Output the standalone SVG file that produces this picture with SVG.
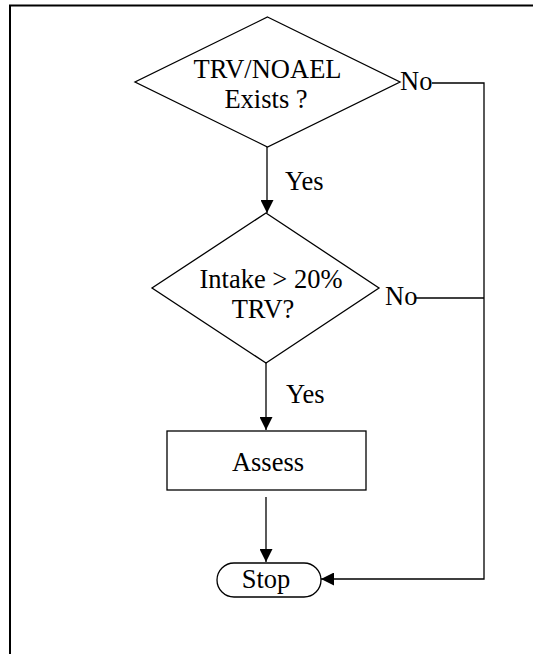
<svg xmlns="http://www.w3.org/2000/svg" width="533" height="654" viewBox="0 0 533 654">
  <style>
    .shape { fill: #ffffff; stroke: #000000; stroke-width: 1.3; }
    .edge { fill: none; stroke: #000000; stroke-width: 1.3; }
    .lbl { font-family: "Liberation Serif", "Times New Roman", serif; font-size: 26.5px; fill: #000000; }
    .mid { text-anchor: middle; }
  </style>
  <defs>
    <marker id="arrow" viewBox="0 0 13 13" refX="13" refY="6.5" markerWidth="13" markerHeight="13" markerUnits="userSpaceOnUse" orient="auto">
      <path d="M0,0 L13,6.5 L0,13 Z" fill="#000000"/>
    </marker>
  </defs>

  <rect width="533" height="654" fill="#ffffff"/>
  <!-- frame -->
  <path d="M10,660 L10,5.5 L540,5.5" fill="none" stroke="#000000" stroke-width="2"/>

  <g id="connectors">
    <line class="edge" x1="267" y1="147" x2="267" y2="213" marker-end="url(#arrow)"/>
    <line class="edge" x1="266" y1="363" x2="266" y2="430" marker-end="url(#arrow)"/>
    <line class="edge" x1="266" y1="497" x2="266" y2="562" marker-end="url(#arrow)"/>
    <polyline class="edge" points="432,83 484,83 484,579 321,579" marker-end="url(#arrow)"/>
    <line class="edge" x1="416" y1="298" x2="484" y2="298"/>
  </g>

  <g id="decision-trv">
    <polygon class="shape" points="267.5,17 400,82 267.5,147 135,82"/>
    <text class="lbl mid" x="267.5" y="78">TRV/NOAEL</text>
    <text class="lbl mid" x="266" y="108">Exists ?</text>
  </g>

  <g id="decision-intake">
    <polygon class="shape" points="266,213 379,288 266,363 152,288"/>
    <text class="lbl mid" x="271" y="288">Intake &gt; 20%</text>
    <text class="lbl mid" x="263" y="318">TRV?</text>
  </g>

  <g id="assess">
    <rect class="shape" x="167" y="431" width="199" height="59"/>
    <text class="lbl mid" x="268" y="471">Assess</text>
  </g>

  <g id="stop">
    <rect class="shape" x="217" y="563" width="104" height="34" rx="17" ry="17"/>
    <text class="lbl mid" x="266" y="588">Stop</text>
  </g>

  <g id="labels">
    <text class="lbl" x="285" y="190">Yes</text>
    <text class="lbl" x="286" y="403">Yes</text>
    <text class="lbl" x="400" y="90">No</text>
    <text class="lbl" x="385" y="305">No</text>
  </g>
</svg>
